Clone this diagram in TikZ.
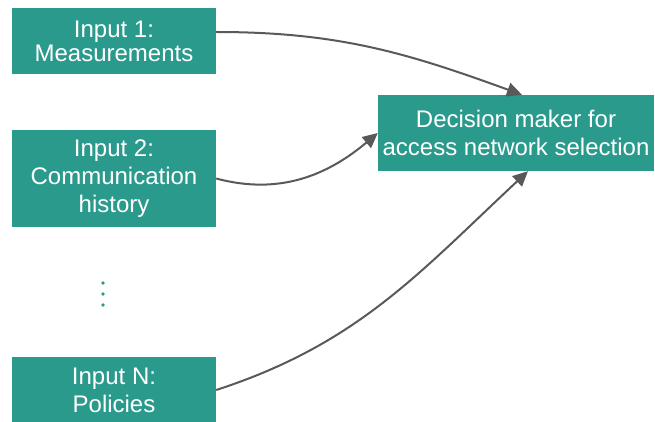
\documentclass[tikz,border=0pt]{standalone}
\usepackage{fontspec}
\setmainfont{Liberation Sans}
\usetikzlibrary{arrows.meta}
\definecolor{boxteal}{RGB}{42,154,140}
\definecolor{linkgray}{RGB}{89,89,89}
\tikzset{
  box/.style={fill=boxteal, draw=none, text=white, align=center, inner sep=0pt,
    font=\fontsize{24}{28}\selectfont},
  link/.style={draw=linkgray, line width=2pt,
    -{Triangle[length=15pt,width=14pt]}},
}
\begin{document}
\begin{tikzpicture}[x=1pt,y=1pt]
  \useasboundingbox (0,0) rectangle (655,-422);
  \clip (0,0) rectangle (655,-422);

  % input boxes on the left
  \node[box, minimum width=204pt, minimum height=66pt,
        font=\fontsize{24}{24}\selectfont] (in1) at (114,-41)
        {Input 1:\\Measurements};
  \node[box, minimum width=204pt, minimum height=97pt] (in2) at (114,-178.5)
        {Input 2:\\Communication\\history};
  \node[box, minimum width=204pt, minimum height=66pt] (inN) at (114,-390)
        {Input N:\\Policies};

  % vertical ellipsis between input 2 and input N
  \node[inner sep=0pt, minimum width=6pt, minimum height=28pt] (dots) at (103,-294) {};
  \foreach \dy in {-11,0,11}
    \fill[boxteal] ([yshift=\dy pt]dots.center) circle (1.9pt);

  % decision maker
  \node[box, minimum width=276pt, minimum height=76pt] (dec) at (516,-133)
        {Decision maker for\\access network selection};

  % connectors
  \draw[link] ([yshift=9pt]in1.east) to[out=0, in=160] ([xshift=6pt]dec.north);
  \draw[link] (in2.east) to[out=-15, in=220] (dec.west);
  \draw[link] (inN.east) to[out=18, in=223] ([xshift=12pt]dec.south);
\end{tikzpicture}
\end{document}
